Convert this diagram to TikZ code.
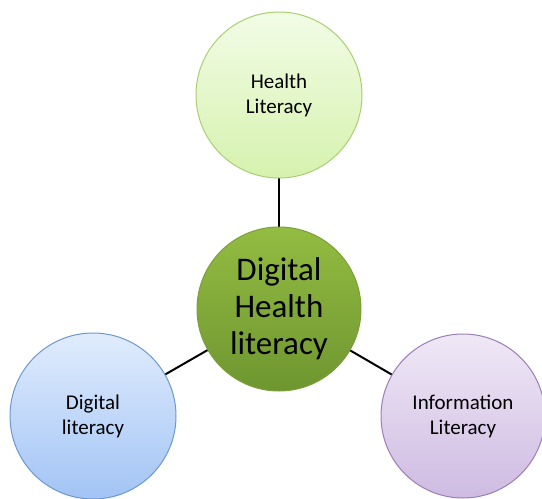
\documentclass[tikz,border=0pt]{standalone}
\usepackage{fontspec}
\setmainfont{Carlito}
\definecolor{hltop}{HTML}{F2FCE6}
\definecolor{hlbot}{HTML}{D6F2AE}
\definecolor{hlline}{HTML}{A9CF73}
\definecolor{dhtop}{HTML}{93BC42}
\definecolor{dhbot}{HTML}{6E9630}
\definecolor{dhline}{HTML}{7D9F3A}
\definecolor{dltop}{HTML}{E0ECFD}
\definecolor{dlbot}{HTML}{A2C4F5}
\definecolor{dlline}{HTML}{6D98CF}
\definecolor{iltop}{HTML}{EFE8F6}
\definecolor{ilbot}{HTML}{CFBBE2}
\definecolor{illine}{HTML}{9C7FB6}
\begin{document}
\begin{tikzpicture}[x=1pt,y=-1pt,
    bubble/.style={circle,minimum size=166pt,inner sep=0pt,line width=1pt,
      align=center,font=\fontsize{21}{25}\selectfont},
    hub/.style={bubble,minimum size=164pt,font=\fontsize{33}{37}\selectfont}]
  \useasboundingbox (0,0) rectangle (542,499);
  \begin{scope}[line width=2pt]
    \draw (279,95) -- (279,309);
    \draw (93,416) -- (279,309);
    \draw (463,416) -- (279,309);
  \end{scope}
  \draw
    (279,95) node[bubble,draw=hlline,top color=hltop,bottom color=hlbot] (health){Health\\Literacy}
    (279,309) node[hub,draw=dhline,top color=dhtop,bottom color=dhbot] (dhl){Digital\\Health\\literacy}
    (93,416) node[bubble,draw=dlline,top color=dltop,bottom color=dlbot] (digital){Digital\\literacy}
    (463,416) node[bubble,minimum size=164pt,draw=illine,top color=iltop,bottom color=ilbot] (info){Information\\Literacy};
\end{tikzpicture}
\end{document}
